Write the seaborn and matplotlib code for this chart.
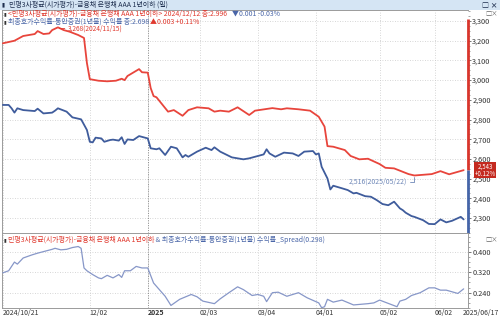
import matplotlib
matplotlib.use("Agg")
import numpy as np
import pandas as pd
import seaborn as sns
import matplotlib.pyplot as plt
from matplotlib.patches import Rectangle
from matplotlib.ticker import FuncFormatter, FixedLocator, MultipleLocator

# ---------------- data (trading-day index, value) ----------------
red_idx = [0, 4, 7, 11, 12, 14, 16, 17, 19, 21, 23, 26, 28, 29, 30, 33, 36, 38, 39, 41,
           42, 43, 47, 48, 50, 51, 52, 53, 57, 59, 62, 64, 67, 71, 73, 75, 78, 81, 85, 87,
           93, 96, 98, 102, 106, 109, 111, 112, 114, 118, 120, 123, 126, 130, 132, 135,
           140, 142, 148, 151, 154, 159]
red_val = [3187, 3200, 3224, 3234, 3249, 3234, 3237, 3254, 3268, 3254, 3246, 3229, 3214,
           3087, 3005, 2997, 2994, 2996, 2997, 3007, 3000, 3021, 3056, 3040, 3038, 2960,
           2919, 2913, 2840, 2848, 2819, 2848, 2862, 2857, 2840, 2845, 2840, 2862, 2823,
           2845, 2858, 2852, 2857, 2852, 2845, 2814, 2764, 2665, 2662, 2645, 2615, 2598,
           2601, 2574, 2555, 2552, 2523, 2516, 2523, 2538, 2522, 2543]

blue_idx = [0, 2, 3, 4, 5, 7, 11, 12, 14, 17, 18, 19, 22, 24, 27, 29, 30, 31, 32, 34, 35,
            37, 38, 40, 41, 42, 43, 45, 47, 50, 51, 53, 54, 56, 58, 60, 62, 63, 64, 67, 70,
            72, 73, 75, 79, 81, 83, 85, 88, 90, 91, 92, 94, 97, 100, 102, 104, 107, 108,
            109, 110, 112, 113, 114, 117, 119, 121, 122, 125, 127, 129, 131, 133, 135, 137,
            138, 139, 141, 142, 145, 147, 149, 151, 153, 155, 158, 159]
blue_val = [2874, 2874, 2857, 2835, 2857, 2848, 2843, 2855, 2831, 2835, 2845, 2857, 2840,
            2811, 2801, 2747, 2687, 2684, 2708, 2704, 2687, 2696, 2698, 2693, 2710, 2676,
            2699, 2696, 2716, 2704, 2654, 2649, 2654, 2620, 2662, 2654, 2608, 2620, 2611,
            2637, 2657, 2645, 2659, 2637, 2608, 2603, 2598, 2603, 2615, 2623, 2649, 2628,
            2611, 2632, 2628, 2615, 2637, 2640, 2623, 2628, 2560, 2501, 2445, 2464, 2451,
            2442, 2425, 2428, 2411, 2408, 2391, 2371, 2365, 2383, 2349, 2340, 2327, 2310,
            2306, 2289, 2270, 2269, 2293, 2278, 2286, 2306, 2293]

spread_idx = [0, 2, 4, 5, 7, 10, 12, 14, 17, 18, 20, 22, 24, 26, 27, 28, 29, 31, 33, 34,
              36, 38, 40, 41, 42, 44, 46, 48, 50, 52, 54, 56, 58, 61, 65, 67, 69, 73, 75,
              78, 81, 83, 86, 88, 90, 91, 93, 95, 98, 102, 105, 109, 110, 111, 112, 114,
              117, 121, 126, 128, 130, 133, 136, 137, 139, 141, 144, 147, 149, 151, 153,
              157, 159]
spread_val = [0.318, 0.326, 0.360, 0.352, 0.376, 0.388, 0.395, 0.401, 0.410, 0.414, 0.408,
              0.410, 0.417, 0.421, 0.414, 0.337, 0.326, 0.311, 0.298, 0.295, 0.308, 0.298,
              0.311, 0.300, 0.326, 0.326, 0.343, 0.337, 0.337, 0.278, 0.252, 0.226, 0.190,
              0.214, 0.233, 0.224, 0.207, 0.197, 0.216, 0.240, 0.263, 0.252, 0.229, 0.233,
              0.226, 0.205, 0.240, 0.242, 0.226, 0.240, 0.220, 0.200, 0.181, 0.185, 0.214,
              0.203, 0.211, 0.192, 0.197, 0.200, 0.211, 0.198, 0.185, 0.207, 0.214, 0.229,
              0.240, 0.259, 0.259, 0.250, 0.250, 0.237, 0.255]

tick_idx = [0, 30, 50, 68, 88, 108, 130, 149]
tick_lab = ["2024/10/21", "12/02", "2025", "02/03", "03/04", "04/01", "05/02", "06/02"]
end_label = "2025/06/17"
main_yticks = [2300, 2400, 2500, 2600, 2700, 2800, 2900, 3000, 3100, 3200, 3300]
sub_yticks = [0.240, 0.320, 0.400]

title_bar = "민평3사평균(시가평가)-금융채 은행채 AAA 1년이하 (일)"
hdr1_a = "<민평3사평균(시가평가)-금융채 은행채 AAA 1년이하> 2024/12/12 종:2.996"
hdr1_b = "▼0.001 -0.03%"
hdr2_a = "최종호가수익률-통안증권(1년물) 수익률 종:2.698"
hdr2_b = "▲0.003 +0.11%"
sub_a = "민평3사평균(시가평가)-금융채 은행채 AAA 1년이하"
sub_b = " & 최종호가수익률-통안증권(1년물) 수익률_Spread(0.298)"
max_note = "3,268(2024/11/15)"
min_note = "2,516(2025/05/22)"
last_box = "2,543\n+0.12%"

# ---------------- style ----------------
sns.set_theme(style="white")
plt.rcParams['font.family'] = ['Noto Sans CJK KR', 'DejaVu Sans']

RED = '#e8453c'
BLUE = '#3f5c9c'
SPREAD = '#8797c8'
TRED = '#e0392e'
TBLUE = '#4a66a8'
GRID = '#c9c9c9'
FS = 5.0

W, H = 500, 320
def fx(px): return px / W
def fy(py): return 1 - py / H

fig = plt.figure(figsize=(5, 3.2), dpi=100)
fig.patch.set_facecolor('white')

# title bar
fig.add_artist(Rectangle((0, fy(10)), 1, 10 / H, transform=fig.transFigure,
                         fc='#d5e5f4', ec='none', zorder=0))
fig.text(fx(9), fy(5), title_bar, fontsize=FS, color='#1f2f4f', va='center', ha='left')
fig.text(fx(498), fy(5), "□ ×", fontsize=FS, color='#1f2f4f', va='center', ha='right',
         fontweight='bold')
fig.text(fx(2), fy(5), "▮", fontsize=FS - 1, color='#1f2f4f', va='center', ha='left')

XL = (-0.3, 160.5)
ax = fig.add_axes([fx(2), fy(233), fx(468) - fx(2), fy(10) - fy(233)])
ax2 = fig.add_axes([fx(2), fy(308), fx(468) - fx(2), fy(233) - fy(308)])

YL = (2224, 3356)
SL = (0.180, 0.474)

df_r = pd.DataFrame({'idx': red_idx, 'val': red_val})
df_b = pd.DataFrame({'idx': blue_idx, 'val': blue_val})
df_s = pd.DataFrame({'idx': spread_idx, 'val': spread_val})

sns.lineplot(data=df_r, x='idx', y='val', ax=ax, color=RED, lw=1.3, zorder=3)
sns.lineplot(data=df_b, x='idx', y='val', ax=ax, color=BLUE, lw=1.3, zorder=3)
sns.lineplot(data=df_s, x='idx', y='val', ax=ax2, color=SPREAD, lw=0.9, zorder=3)

for a, yl, yt, fmt in [(ax, YL, main_yticks, lambda v, p: f"{v:,.0f}"),
                       (ax2, SL, sub_yticks, lambda v, p: f"{v:.3f}")]:
    a.set_xlim(*XL)
    a.set_ylim(*yl)
    a.set_xlabel('')
    a.set_ylabel('')
    a.set_facecolor('white')
    a.yaxis.tick_right()
    a.set_yticks(yt)
    a.yaxis.set_major_formatter(FuncFormatter(fmt))
    a.set_xticks(tick_idx)
    a.xaxis.set_minor_locator(MultipleLocator(5))
    a.grid(True, which='major', linestyle=(0, (1, 2)), color=GRID, lw=0.6)
    a.axvline(50, color='#8c8c8c', linestyle=(0, (1, 1.5)), lw=0.7, zorder=1)
    a.tick_params(axis='y', which='major', labelsize=FS + 0.3, length=2, width=0.6,
                  color='#606060', pad=1, labelcolor='#333333')
    a.tick_params(axis='x', which='both', direction='in', length=2, width=0.5,
                  color='#707070')
    for s in a.spines.values():
        s.set_color('#9a9a9a')
        s.set_linewidth(0.7)

ax.yaxis.set_minor_locator(MultipleLocator(25))
ax.tick_params(axis='y', which='minor', length=1.2, width=0.5, color='#808080')
ax2.yaxis.set_minor_locator(MultipleLocator(0.02))
ax2.tick_params(axis='y', which='minor', length=1.2, width=0.5, color='#808080')

ax.tick_params(axis='x', labelbottom=False)
ax2.set_xticklabels(tick_lab, fontsize=FS, color='#333333', ha='left')
ax2.tick_params(axis='x', pad=1)
for t in ax2.get_xticklabels():
    if t.get_text() == "2025":
        t.set_fontweight('bold')
fig.text(fx(499), fy(313.5), end_label, fontsize=FS, color='#333333', ha='right', va='center')

# coloured right spine of main panel
ax.spines['right'].set_visible(False)
def frac(v): return (v - YL[0]) / (YL[1] - YL[0])
ax.plot([1, 1], [frac(2543), frac(3310)], transform=ax.transAxes, color='#d8352c',
        lw=2.0, clip_on=False, zorder=5, solid_capstyle='butt')
ax.plot([1, 1], [0, frac(2543)], transform=ax.transAxes, color='#4565a8',
        lw=2.0, clip_on=False, zorder=5, solid_capstyle='butt')

# last value box (covers the 2,500 label partly, as in the reference)
fig.text(fx(485), fy(170), last_box, fontsize=FS - 0.6, color='white', ha='center',
         va='center', linespacing=0.85, zorder=10,
         bbox=dict(boxstyle='square,pad=0.1', fc='#c42a20', ec='none'))

# header texts of main panel
fig.text(fx(4), fy(14), "▮", fontsize=FS - 1.5, color='#333333', va='center')
fig.text(fx(8), fy(14), hdr1_a, fontsize=FS, color=TRED, va='center')
fig.text(fx(232), fy(14), hdr1_b, fontsize=FS, color=TBLUE, va='center')
fig.text(fx(4), fy(21.5), "▮", fontsize=FS - 1.5, color='#333333', va='center')
fig.text(fx(8), fy(21.5), hdr2_a, fontsize=FS, color=TBLUE, va='center')
fig.text(fx(150), fy(21.5), hdr2_b, fontsize=FS, color=TRED, va='center')
fig.text(fx(498), fy(14), "□×", fontsize=FS - 0.5, color='#666666', va='center', ha='right')

# max / min annotations
ax.annotate(max_note, xy=(19, 3262), xytext=(22.5, 3262), textcoords='data',
            fontsize=FS - 0.3, color=TRED, va='center', ha='left',
            arrowprops=dict(arrowstyle='-', color=TRED, lw=0.6, shrinkA=0, shrinkB=1))
ax.annotate(min_note, xy=(142, 2516), xytext=(139.5, 2483), textcoords='data',
            fontsize=FS, color='#6f88b8', va='center', ha='right',
            arrowprops=dict(arrowstyle='-', color='#6f88b8', lw=0.6, shrinkA=0, shrinkB=1,
                            connectionstyle='angle,angleA=0,angleB=90,rad=0'))

# lower panel header
fig.text(fx(4), fy(239.5), "▮", fontsize=FS - 1.5, color='#333333', va='center')
t1 = fig.text(fx(8), fy(239.5), sub_a, fontsize=FS, color=TRED, va='center')
fig.canvas.draw()
bb = t1.get_window_extent()
fig.text(bb.x1 / fig.bbox.width, fy(239.5), sub_b, fontsize=FS, color=TBLUE, va='center')
fig.text(fx(498), fy(239.5), "□×", fontsize=FS - 0.5, color='#666666', va='center', ha='right')

fig.savefig("out.png", dpi=100, facecolor='white')
